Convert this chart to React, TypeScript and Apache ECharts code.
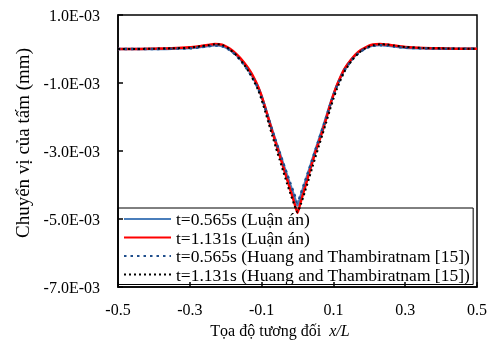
import React, { useEffect, useRef } from "react";
import * as echarts from "echarts";

const xPos: number[] = [
  -0.5, -0.45, -0.4, -0.35, -0.3, -0.27, -0.25, -0.23, -0.21, -0.19, -0.17, -0.15, -0.13, -0.11,
  -0.1, -0.09, -0.08, -0.07, -0.06, -0.05, -0.04, -0.03, -0.02, -0.01, 0,
  0.01, 0.02, 0.03, 0.04, 0.05, 0.06, 0.07, 0.08, 0.09, 0.1,
  0.11, 0.13, 0.15, 0.17, 0.19, 0.21, 0.23, 0.25, 0.27, 0.3, 0.35, 0.4, 0.45, 0.5,
];

// values in units of 1E-03 mm
const blue565: number[] = [
  0, 0, 0, 0.01, 0.03, 0.06, 0.09, 0.11, 0.09, -0.01, -0.18, -0.42, -0.72, -1.12,
  -1.4, -1.72, -2.06, -2.4, -2.73, -3.05, -3.37, -3.69, -4.0, -4.3, -4.6,
  -4.28, -3.96, -3.63, -3.3, -2.97, -2.65, -2.33, -2.0, -1.66, -1.35,
  -1.07, -0.62, -0.32, -0.1, 0.03, 0.1, 0.12, 0.1, 0.07, 0.04, 0.02, 0.01, 0.01, 0.01,
];
const red1131: number[] = [
  0, 0, 0.01, 0.02, 0.05, 0.09, 0.12, 0.15, 0.13, 0.02, -0.15, -0.38, -0.68, -1.1,
  -1.38, -1.72, -2.08, -2.44, -2.78, -3.12, -3.46, -3.8, -4.14, -4.48, -4.82,
  -4.46, -4.1, -3.74, -3.38, -3.03, -2.72, -2.4, -2.05, -1.68, -1.35,
  -1.06, -0.6, -0.3, -0.08, 0.05, 0.13, 0.15, 0.13, 0.1, 0.06, 0.03, 0.02, 0.01, 0.01,
];
const huang565: number[] = [
  0, 0, 0, 0.01, 0.02, 0.05, 0.08, 0.1, 0.08, -0.02, -0.2, -0.45, -0.76, -1.15,
  -1.42, -1.74, -2.07, -2.4, -2.72, -3.03, -3.34, -3.65, -3.95, -4.24, -4.52,
  -4.23, -3.92, -3.61, -3.29, -2.97, -2.65, -2.33, -2.01, -1.68, -1.37,
  -1.09, -0.64, -0.34, -0.12, 0.02, 0.09, 0.11, 0.1, 0.07, 0.04, 0.02, 0.01, 0.01, 0.01,
];
const huang1131: number[] = [
  0, 0, 0.01, 0.02, 0.04, 0.08, 0.11, 0.14, 0.12, 0.0, -0.19, -0.44, -0.77, -1.2,
  -1.5, -1.84, -2.2, -2.56, -2.91, -3.25, -3.59, -3.93, -4.25, -4.55, -4.8,
  -4.55, -4.22, -3.88, -3.53, -3.18, -2.84, -2.5, -2.16, -1.8, -1.47,
  -1.17, -0.68, -0.36, -0.12, 0.03, 0.11, 0.14, 0.13, 0.1, 0.06, 0.03, 0.02, 0.01, 0.01,
];

const seriesNames: string[] = [
  "t=0.565s (Luận án)",
  "t=1.131s (Luận án)",
  "t=0.565s (Huang and Thambiratnam [15])",
  "t=1.131s (Huang and Thambiratnam [15])",
];
const xTicks: number[] = [-0.5, -0.3, -0.1, 0.1, 0.3, 0.5];
const yTicks: number[] = [-7, -5, -3, -1, 1];

const FONT = "'Liberation Serif', 'Times New Roman', serif";

export default function App() {
  const ref = useRef<HTMLDivElement>(null);
  useEffect(() => {
    if (!ref.current) return;
    const chart = echarts.init(ref.current, undefined, { renderer: "svg" });
    const pair = (ys: number[]) => xPos.map((x, i) => [x, ys[i]]);
    const styles = [
      { color: "#4A7EBB", width: 2.5, type: "solid" as any },
      { color: "#FF0000", width: 2.5, type: "solid" as any },
      { color: "#1F4E8C", width: 2.5, type: [2.5, 4] as any },
      { color: "#000000", width: 2, type: [2, 3] as any },
    ];
    const datas = [blue565, red1131, huang565, huang1131];
    chart.setOption({
      animation: false,
      textStyle: { fontFamily: FONT },
      grid: {
        left: 118,
        right: 10,
        top: 15,
        bottom: 60,
        show: true,
        borderColor: "#000",
        borderWidth: 1.5,
        backgroundColor: "transparent",
      },
      xAxis: {
        type: "value",
        min: -0.5,
        max: 0.5,
        splitLine: { show: false },
        axisLine: { show: true, onZero: false, lineStyle: { color: "#000", width: 1.5 } },
        axisTick: { show: true, inside: true, length: 5, customValues: xTicks, lineStyle: { color: "#000", width: 1.5 } },
        axisLabel: {
          customValues: xTicks,
          formatter: (v: number) => v.toFixed(1),
          color: "#000",
          fontSize: 16,
          fontFamily: FONT,
          margin: 14,
        },
      },
      yAxis: {
        type: "value",
        min: -7,
        max: 1,
        splitLine: { show: false },
        axisLine: { show: true, onZero: false, lineStyle: { color: "#000", width: 1.5 } },
        axisTick: { show: true, inside: true, length: 5, customValues: yTicks, lineStyle: { color: "#000", width: 1.5 } },
        axisLabel: {
          customValues: yTicks,
          formatter: (v: number) => v.toFixed(1) + "E-03",
          color: "#000",
          fontSize: 16,
          fontFamily: FONT,
          margin: 18,
        },
      },
      legend: {
        orient: "vertical",
        left: 118,
        top: 208,
        itemWidth: 47,
        itemHeight: 14,
        itemGap: 0.5,
        padding: [2, 3, 1, 5],
        borderColor: "#000",
        borderWidth: 1,
        backgroundColor: "transparent",
        itemStyle: { opacity: 0 },
        textStyle: { color: "#000", fontSize: 17.5, fontFamily: FONT },
        data: seriesNames,
      },
      graphic: [
        {
          type: "text",
          x: 22,
          y: 143,
          rotation: Math.PI / 2,
          style: {
            text: "Chuyển vị của tấm (mm)",
            fontSize: 19,
            fontFamily: FONT,
            fill: "#000",
            align: "center",
            verticalAlign: "middle",
          },
        },
        {
          type: "text",
          x: 280,
          y: 330,
          style: {
            text: "{a|Tọa độ tương đối  }{b|x/L}",
            align: "center",
            verticalAlign: "middle",
            rich: {
              a: { fontSize: 16, fontFamily: FONT, fill: "#000" },
              b: { fontSize: 16, fontFamily: FONT, fontStyle: "italic", fill: "#000" },
            },
          },
        },
      ],
      series: datas.map((d, i) => ({
        type: "line",
        name: seriesNames[i],
        data: pair(d),
        symbol: "none",
        smooth: 0.2,
        lineStyle: styles[i],
        itemStyle: { color: styles[i].color },
        z: i === 0 ? 2 : i === 1 ? 3 : 4,
      })),
    });
    return () => chart.dispose();
  }, []);
  return (
    <div
      ref={ref}
      style={{ position: "fixed", left: 0, top: 0, width: 490, height: 347 }}
    />
  );
}
